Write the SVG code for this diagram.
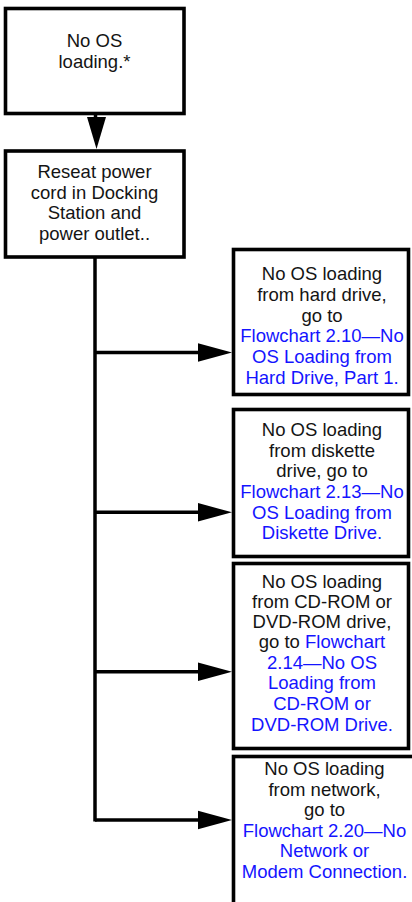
<svg xmlns="http://www.w3.org/2000/svg" width="412" height="902" viewBox="0 0 412 902">
<style>
.box{fill:#fff;stroke:#000;stroke-width:3.6}
.t{font-family:"Liberation Sans",Arial,sans-serif;font-size:18.5px;fill:#141414;text-anchor:middle}
.l{fill:#1414ff}
.c{stroke:#000;stroke-width:3.5;fill:none}
.ah{fill:#000}
</style>
<rect width="412" height="902" fill="#fff"/>
<g id="connectors">
<line class="c" x1="95.5" y1="113" x2="95.5" y2="120"/>
<polygon class="ah" points="87,117 106,117 96.5,149"/>
<line class="c" x1="95" y1="257" x2="95" y2="821.5"/>
<line class="c" x1="95" y1="352.5" x2="200" y2="352.5"/>
<polygon class="ah" points="198,343.3 198,361.7 232,352.5"/>
<line class="c" x1="95" y1="512.3" x2="200" y2="512.3"/>
<polygon class="ah" points="198,503.1 198,521.5 232,512.3"/>
<line class="c" x1="95" y1="671.7" x2="200" y2="671.7"/>
<polygon class="ah" points="198,662.5 198,680.9 232,671.7"/>
<line class="c" x1="95" y1="820" x2="200" y2="820"/>
<polygon class="ah" points="198,810.8 198,829.2 232,820"/>
</g>
<g id="n1">
<rect class="box" x="5.5" y="8.5" width="178.5" height="105"/>
<text class="t" x="94.5" y="47">No OS</text>
<text class="t" x="94.5" y="68">loading.*</text>
</g>
<g id="n2">
<rect class="box" x="5.5" y="151" width="178.5" height="106"/>
<text class="t" x="94.5" y="178">Reseat power</text>
<text class="t" x="94.5" y="198.6">cord in Docking</text>
<text class="t" x="94.5" y="219.2">Station and</text>
<text class="t" x="94.5" y="239.8">power outlet..</text>
</g>
<g id="n3">
<rect class="box" x="233.5" y="249.5" width="175" height="145"/>
<text class="t" x="322" y="279.5">No OS loading</text>
<text class="t" x="322" y="300.5">from hard drive,</text>
<text class="t" x="322" y="321.5">go to</text>
<text class="t l" x="322" y="342">Flowchart 2.10—No</text>
<text class="t l" x="322" y="363">OS Loading from</text>
<text class="t l" x="322" y="384">Hard Drive, Part 1.</text>
</g>
<g id="n4">
<rect class="box" x="233.5" y="409.5" width="175" height="147"/>
<text class="t" x="322" y="436">No OS loading</text>
<text class="t" x="322" y="456.5">from diskette</text>
<text class="t" x="322" y="477">drive, go to</text>
<text class="t l" x="322" y="498">Flowchart 2.13—No</text>
<text class="t l" x="322" y="518.5">OS Loading from</text>
<text class="t l" x="322" y="539">Diskette Drive.</text>
</g>
<g id="n5">
<rect class="box" x="233.5" y="563.5" width="175" height="185"/>
<text class="t" x="322" y="588">No OS loading</text>
<text class="t" x="322" y="608">from CD-ROM or</text>
<text class="t" x="322" y="628">DVD-ROM drive,</text>
<text class="t" x="322" y="648">go to <tspan class="l">Flowchart</tspan></text>
<text class="t l" x="322" y="668.5">2.14—No OS</text>
<text class="t l" x="322" y="689">Loading from</text>
<text class="t l" x="322" y="710">CD-ROM or</text>
<text class="t l" x="322" y="731">DVD-ROM Drive.</text>
</g>
<g id="n6">
<rect class="box" x="233.5" y="756.5" width="190" height="160"/>
<text class="t" x="324.5" y="775">No OS loading</text>
<text class="t" x="324.5" y="795.5">from network,</text>
<text class="t" x="324.5" y="816">go to</text>
<text class="t l" x="324.5" y="836.5">Flowchart 2.20—No</text>
<text class="t l" x="324.5" y="857">Network or</text>
<text class="t l" x="324.5" y="878">Modem Connection.</text>
</g>
</svg>
